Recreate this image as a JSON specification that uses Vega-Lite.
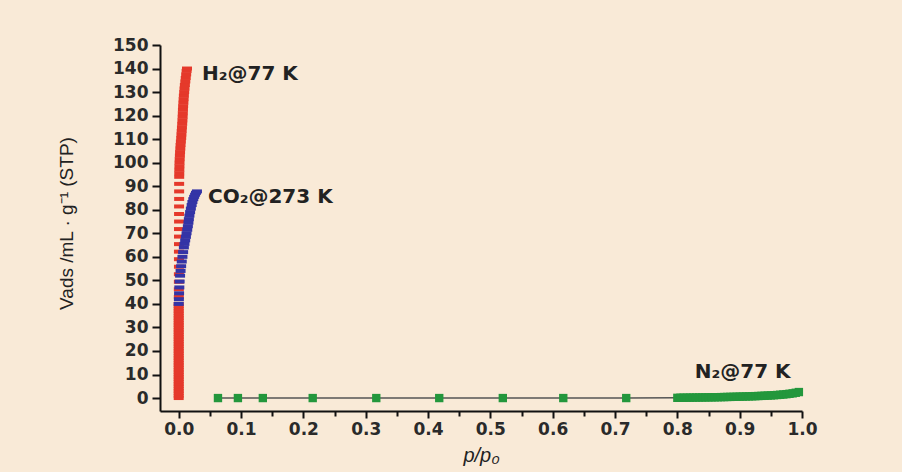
{
  "$schema": "https://vega.github.io/schema/vega-lite/v6.json",
  "width": 642,
  "height": 366,
  "autosize": {"type": "none"},
  "padding": {"left": 160, "top": 45, "right": 100, "bottom": 61},
  "background": "#f9ead7",
  "config": {"view": {"stroke": null}},
  "datasets": {
    "h2": [
      {"p": 0.0, "v": 0}, {"p": 0.0, "v": 1}, {"p": 0.0, "v": 2}, {"p": 0.0, "v": 3}, {"p": 0.0, "v": 4},
      {"p": 0.0, "v": 5}, {"p": 0.0, "v": 6}, {"p": 0.0, "v": 7}, {"p": 0.0, "v": 8}, {"p": 0.0, "v": 9},
      {"p": 0.0, "v": 10}, {"p": 0.0, "v": 11}, {"p": 0.0, "v": 12}, {"p": 0.0, "v": 13}, {"p": 0.0, "v": 14},
      {"p": 0.0, "v": 15}, {"p": 0.0, "v": 16}, {"p": 0.0, "v": 17}, {"p": 0.0, "v": 18}, {"p": 0.0, "v": 19},
      {"p": 0.0, "v": 20}, {"p": 0.0, "v": 21}, {"p": 0.0, "v": 22}, {"p": 0.0, "v": 23}, {"p": 0.0, "v": 24},
      {"p": 0.0, "v": 25}, {"p": 0.0, "v": 26}, {"p": 0.0, "v": 27}, {"p": 0.0, "v": 28}, {"p": 0.0, "v": 29},
      {"p": 0.0, "v": 30}, {"p": 0.0, "v": 31}, {"p": 0.0, "v": 32}, {"p": 0.0, "v": 33}, {"p": 0.0, "v": 34},
      {"p": 0.0, "v": 35}, {"p": 0.0, "v": 36}, {"p": 0.0, "v": 37}, {"p": 0.0, "v": 38}, {"p": 0.0, "v": 39},
      {"p": 0.0, "v": 40},
      {"p": 0.0002, "v": 43}, {"p": 0.0002, "v": 46.2}, {"p": 0.0003, "v": 49.4}, {"p": 0.0003, "v": 52.6},
      {"p": 0.0004, "v": 55.8}, {"p": 0.0004, "v": 59}, {"p": 0.0004, "v": 62.2}, {"p": 0.0005, "v": 65.4},
      {"p": 0.0005, "v": 68.6}, {"p": 0.0005, "v": 71.8}, {"p": 0.0006, "v": 75}, {"p": 0.0006, "v": 78.2},
      {"p": 0.0006, "v": 81.4}, {"p": 0.0007, "v": 84.6}, {"p": 0.0007, "v": 87.8}, {"p": 0.0007, "v": 91},
      {"p": 0.0008, "v": 94}, {"p": 0.0009, "v": 95.5}, {"p": 0.001, "v": 97}, {"p": 0.0012, "v": 98.5},
      {"p": 0.0013, "v": 100}, {"p": 0.0016, "v": 101.5}, {"p": 0.0019, "v": 103}, {"p": 0.0022, "v": 104.5},
      {"p": 0.0026, "v": 106}, {"p": 0.003, "v": 107.5}, {"p": 0.0035, "v": 109}, {"p": 0.004, "v": 110.5},
      {"p": 0.0044, "v": 112}, {"p": 0.0048, "v": 113.5}, {"p": 0.0052, "v": 115}, {"p": 0.0056, "v": 116.5},
      {"p": 0.006, "v": 118}, {"p": 0.0063, "v": 119.5}, {"p": 0.0066, "v": 121}, {"p": 0.0068, "v": 122.5},
      {"p": 0.0071, "v": 124}, {"p": 0.0075, "v": 125.5}, {"p": 0.0079, "v": 127}, {"p": 0.0083, "v": 128.5},
      {"p": 0.0088, "v": 130}, {"p": 0.0093, "v": 131.5}, {"p": 0.0099, "v": 133}, {"p": 0.0106, "v": 134.5},
      {"p": 0.0113, "v": 136}, {"p": 0.012, "v": 137.5}, {"p": 0.0127, "v": 139}, {"p": 0.0133, "v": 140}
    ],
    "co2": [
      {"p": 0.0, "v": 40}, {"p": 0.0003, "v": 42}, {"p": 0.0006, "v": 44.5}, {"p": 0.001, "v": 47},
      {"p": 0.0015, "v": 49.5}, {"p": 0.0022, "v": 52}, {"p": 0.003, "v": 54}, {"p": 0.0039, "v": 56},
      {"p": 0.0049, "v": 58}, {"p": 0.006, "v": 60}, {"p": 0.0071, "v": 62}, {"p": 0.0083, "v": 64},
      {"p": 0.0093, "v": 65.5}, {"p": 0.0104, "v": 67}, {"p": 0.0116, "v": 68.5}, {"p": 0.0126, "v": 70},
      {"p": 0.0137, "v": 71.5}, {"p": 0.0147, "v": 73}, {"p": 0.0156, "v": 74.5}, {"p": 0.0163, "v": 76},
      {"p": 0.0172, "v": 77.5}, {"p": 0.0183, "v": 79}, {"p": 0.0195, "v": 80.5}, {"p": 0.0208, "v": 82},
      {"p": 0.022, "v": 83.3}, {"p": 0.0234, "v": 84.5}, {"p": 0.0248, "v": 85.5}, {"p": 0.0263, "v": 86.4},
      {"p": 0.0278, "v": 87.2}, {"p": 0.0293, "v": 87.8}
    ],
    "n2": [
      {"p": 0.063, "v": 0}, {"p": 0.095, "v": 0}, {"p": 0.135, "v": 0}, {"p": 0.215, "v": 0},
      {"p": 0.317, "v": 0}, {"p": 0.418, "v": 0}, {"p": 0.52, "v": 0}, {"p": 0.617, "v": 0},
      {"p": 0.718, "v": 0},
      {"p": 0.8, "v": 0.1}, {"p": 0.805, "v": 0.12}, {"p": 0.81, "v": 0.14}, {"p": 0.815, "v": 0.16},
      {"p": 0.82, "v": 0.18}, {"p": 0.825, "v": 0.2}, {"p": 0.83, "v": 0.22}, {"p": 0.835, "v": 0.24},
      {"p": 0.84, "v": 0.26}, {"p": 0.845, "v": 0.28}, {"p": 0.85, "v": 0.3}, {"p": 0.855, "v": 0.32},
      {"p": 0.86, "v": 0.34}, {"p": 0.865, "v": 0.37}, {"p": 0.87, "v": 0.4}, {"p": 0.875, "v": 0.43},
      {"p": 0.88, "v": 0.46}, {"p": 0.885, "v": 0.49}, {"p": 0.89, "v": 0.52}, {"p": 0.895, "v": 0.56},
      {"p": 0.9, "v": 0.6}, {"p": 0.905, "v": 0.64}, {"p": 0.91, "v": 0.68}, {"p": 0.915, "v": 0.72},
      {"p": 0.92, "v": 0.77}, {"p": 0.925, "v": 0.82}, {"p": 0.93, "v": 0.87}, {"p": 0.935, "v": 0.93},
      {"p": 0.94, "v": 0.99}, {"p": 0.945, "v": 1.06}, {"p": 0.95, "v": 1.13}, {"p": 0.955, "v": 1.21},
      {"p": 0.96, "v": 1.3}, {"p": 0.965, "v": 1.4}, {"p": 0.97, "v": 1.52}, {"p": 0.975, "v": 1.66},
      {"p": 0.98, "v": 1.82}, {"p": 0.985, "v": 2.0}, {"p": 0.99, "v": 2.25}, {"p": 0.995, "v": 2.55}
    ],
    "labels": [
      {"p": 0.0374, "v": 135.1, "label": "H₂@77 K"},
      {"p": 0.047, "v": 82.9, "label": "CO₂@273 K"},
      {"p": 0.828, "v": 8.5, "label": "N₂@77 K"}
    ]
  },
  "encoding": {
    "x": {
      "field": "p",
      "type": "quantitative",
      "scale": {"domain": [-0.03, 1.0], "nice": false, "zero": false},
      "axis": {
        "title": "p/p₀",
        "titleFont": "Liberation Sans",
        "titleFontStyle": "italic",
        "titleFontWeight": "normal",
        "titleFontSize": 20,
        "titleColor": "#222",
        "titleX": 321,
        "titleY": 50,
        "titleAlign": "center",
        "titleBaseline": "alphabetic",
        "values": [0, 0.05, 0.1, 0.15, 0.2, 0.25, 0.3, 0.35, 0.4, 0.45, 0.5, 0.55, 0.6, 0.65, 0.7, 0.75, 0.8, 0.85, 0.9, 0.95, 1.0],
        "labelExpr": "round(datum.value*20) % 2 == 0 ? format(datum.value, '.1f') : ''",
        "labelFont": "DejaVu Sans",
        "labelFontWeight": "bold",
        "labelFontSize": 17,
        "labelColor": "#2a2a2a",
        "labelPadding": 3,
        "labelFlush": false,
        "labelOverlap": false,
        "grid": false,
        "domainColor": "#111",
        "domainWidth": 2,
        "tickColor": "#111",
        "tickWidth": 2,
        "tickSize": {"condition": {"test": "round(datum.value*20) % 2 == 1", "value": 5}, "value": 7}
      }
    },
    "y": {
      "field": "v",
      "type": "quantitative",
      "scale": {"domain": [-5.5, 150], "nice": false, "zero": false},
      "axis": {
        "title": "Vads /mL · g⁻¹ (STP)",
        "titleFont": "Liberation Sans",
        "titleFontWeight": "normal",
        "titleFontSize": 19,
        "titleColor": "#222",
        "titleAngle": -90,
        "titleX": -94,
        "titleY": 178,
        "titleAlign": "center",
        "titleBaseline": "middle",
        "values": [0, 10, 20, 30, 40, 50, 60, 70, 80, 90, 100, 110, 120, 130, 140, 150],
        "labelFont": "DejaVu Sans",
        "labelFontWeight": "bold",
        "labelFontSize": 17,
        "labelColor": "#2a2a2a",
        "labelPadding": 4,
        "labelFlush": false,
        "labelOverlap": false,
        "grid": false,
        "domainColor": "#111",
        "domainWidth": 2,
        "tickColor": "#111",
        "tickWidth": 2,
        "tickSize": 8
      }
    }
  },
  "layer": [
    {
      "data": {"name": "h2"},
      "mark": {"type": "point", "shape": "M-1,-0.4H1V0.4H-1Z", "size": 100, "filled": true, "color": "#e5392b", "opacity": 1, "strokeWidth": 0}
    },
    {
      "data": {"name": "co2"},
      "mark": {"type": "point", "shape": "M-1,-0.4H1V0.4H-1Z", "size": 100, "filled": true, "color": "#3434a6", "opacity": 1, "strokeWidth": 0}
    },
    {
      "data": {"name": "n2"},
      "mark": {"type": "line", "color": "#555", "strokeWidth": 1.5}
    },
    {
      "data": {"name": "n2"},
      "mark": {"type": "point", "shape": "square", "size": 70, "filled": true, "color": "#23973c", "opacity": 1, "strokeWidth": 0}
    },
    {
      "data": {"name": "labels"},
      "mark": {"type": "text", "align": "left", "baseline": "alphabetic", "font": "DejaVu Sans", "fontWeight": "bold", "fontSize": 20, "color": "#222"},
      "encoding": {"text": {"field": "label"}}
    }
  ]
}
